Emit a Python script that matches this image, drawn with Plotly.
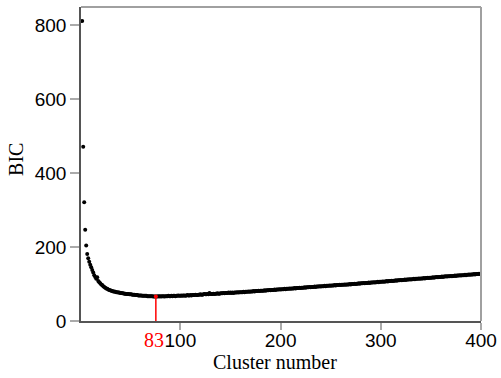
import plotly.graph_objects as go

# ---------------- data ----------------
first_cluster = 2
bic = [
    811, 471, 321, 247, 204, 181, 170, 160, 152,
    145, 138, 131, 124, 119, 114, 118, 108, 105, 102,
    99, 97, 94, 92, 90, 88, 87, 85, 84, 83,
    82, 81, 80, 80, 79, 78, 78, 77, 77, 76,
    76, 75, 75, 74, 74, 73, 73, 73, 72, 72,
    72, 71, 71, 71, 70, 70, 70, 69, 69, 69,
    69, 68, 68, 68, 68, 68, 67, 67, 67, 67,
    67, 67, 66, 66, 66, 66, 66, 67, 66, 67,
    66, 67, 67, 66, 67, 67, 67, 68, 67, 67,
    68, 67, 68, 68, 67, 68, 68, 69, 68, 68,
    69, 68, 69, 69, 68, 69, 70, 69, 69, 70,
    69, 70, 70, 70, 71, 70, 70, 71, 71, 72,
    71, 71, 72, 73, 72, 72, 73, 72, 76, 73,
    73, 73, 74, 73, 74, 74, 75, 74, 74, 75,
    75, 75, 76, 75, 76, 76, 76, 77, 76, 77,
    76, 77, 76, 77, 77, 77, 78, 77, 78, 78,
    78, 78, 79, 78, 79, 79, 79, 80, 79, 80,
    80, 80, 81, 80, 81, 81, 81, 82, 81, 82,
    82, 82, 82, 83, 82, 83, 83, 83, 84, 83,
    84, 84, 84, 85, 84, 85, 85, 85, 86, 85,
    86, 86, 86, 87, 86, 87, 87, 87, 88, 87,
    88, 88, 88, 89, 88, 89, 89, 89, 90, 89,
    90, 90, 90, 91, 90, 91, 91, 91, 92, 91,
    92, 92, 92, 93, 92, 93, 93, 93, 94, 93,
    94, 94, 94, 95, 94, 95, 95, 95, 96, 95,
    96, 96, 96, 97, 96, 97, 97, 97, 98, 97,
    98, 98, 98, 99, 98, 99, 99, 99, 100, 99,
    100, 100, 100, 101, 100, 101, 101, 102, 101, 102,
    102, 102, 103, 102, 103, 103, 103, 104, 103, 104,
    104, 104, 105, 104, 105, 105, 106, 105, 106, 106,
    106, 107, 106, 107, 107, 108, 107, 108, 108, 108,
    109, 108, 109, 109, 110, 109, 110, 110, 110, 111,
    110, 111, 111, 112, 111, 112, 112, 112, 113, 112,
    113, 113, 114, 113, 114, 114, 114, 115, 114, 115,
    115, 115, 116, 115, 116, 116, 117, 116, 117, 117,
    117, 118, 117, 118, 118, 119, 118, 119, 119, 119,
    120, 119, 120, 120, 121, 120, 121, 121, 121, 122,
    121, 122, 122, 123, 122, 123, 123, 123, 124, 123,
    124, 124, 124, 125, 124, 125, 125, 126, 125, 126,
    126, 126, 127, 126, 127, 127, 127, 128, 127, 128,
]
clusters = list(range(first_cluster, first_cluster + len(bic)))

x_ticks = [100, 200, 300, 400]
y_ticks = [0, 200, 400, 600, 800]
best_k_label = "83"
best_k_pos = 75.5
x_title = "Cluster number"
y_title = "BIC"

# ---------------- figure ----------------
serif = "Liberation Serif, Times New Roman, serif"
sans = "Liberation Sans, Arial, sans-serif"

fig = go.Figure()
fig.add_trace(go.Scatter(
    x=clusters, y=bic, mode="markers",
    marker=dict(color="black", size=4, line=dict(width=0)),
    showlegend=False, hoverinfo="skip",
))

min_bic = min(bic)
fig.add_shape(type="line", xref="x", yref="y",
              x0=best_k_pos, x1=best_k_pos, y0=0, y1=min_bic,
              line=dict(color="red", width=1.5), layer="above")
fig.add_trace(go.Scatter(
    x=[best_k_pos], y=[min_bic], mode="markers",
    marker=dict(color="red", size=4, line=dict(width=0)),
    showlegend=False, hoverinfo="skip",
))

# top / right frame lines (lighter grey)
fig.add_shape(type="line", xref="paper", yref="paper", x0=0, x1=1, y0=1, y1=1,
              line=dict(color="#a0a0a0", width=2))
fig.add_shape(type="line", xref="paper", yref="paper", x0=1, x1=1, y0=0, y1=1,
              line=dict(color="#a0a0a0", width=2))

fig.update_layout(
    width=501, height=378,
    margin=dict(l=81, r=20, t=7, b=57, autoexpand=False),
    paper_bgcolor="white", plot_bgcolor="white",
    xaxis=dict(
        range=[0.8, 400], tickvals=x_ticks, ticktext=[str(v) for v in x_ticks],
        showgrid=False, zeroline=False, automargin=False,
        showline=True, linecolor="#555555", linewidth=1.5,
        ticks="outside", ticklen=7, tickwidth=1.5, tickcolor="#aaaaaa",
        ticklabelstandoff=-6,
        tickfont=dict(family=sans, size=19, color="black"),
    ),
    yaxis=dict(
        range=[0, 849], tickvals=y_ticks, ticktext=[str(v) for v in y_ticks],
        showgrid=False, zeroline=False, automargin=False,
        showline=True, linecolor="#555555", linewidth=1.5,
        ticks="outside", ticklen=9, tickwidth=1.5, tickcolor="#aaaaaa",
        tickfont=dict(family=sans, size=19, color="black"),
    ),
    annotations=[
        dict(text=x_title, xref="paper", yref="paper", x=0.486, y=(321 - 362) / 314,
             xanchor="center", yanchor="middle", showarrow=False,
             font=dict(family=serif, size=20, color="black")),
        dict(text=y_title, xref="paper", yref="paper", x=(16 - 81) / 400, y=0.513,
             xanchor="center", yanchor="middle", textangle=-90, showarrow=False,
             font=dict(family=serif, size=20, color="black")),
        dict(text=best_k_label, xref="paper", yref="paper", x=(154 - 81.3) / 399.7,
             y=(321 - 340) / 314, xanchor="center", yanchor="middle", showarrow=False,
             font=dict(family=serif, size=20, color="red")),
    ],
)

fig.write_html("out.html")
